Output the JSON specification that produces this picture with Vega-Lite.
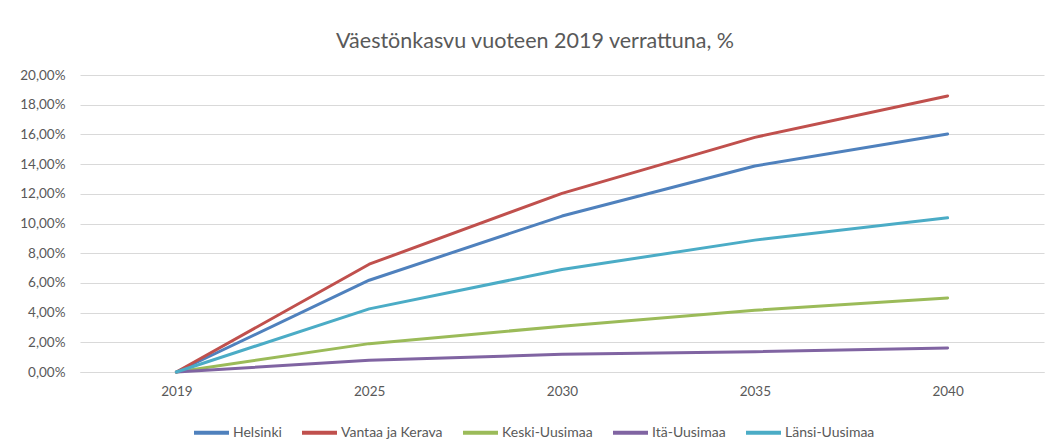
{
  "$schema": "https://vega.github.io/schema/vega-lite/v6.json",
  "width": 964,
  "height": 297,
  "autosize": "none",
  "padding": {"left": 80, "top": 75, "right": 6, "bottom": 69},
  "background": "white",
  "config": {
    "locale": {"number": {"decimal": ",", "thousands": " ", "grouping": [3], "currency": ["", " €"]}},
    "view": {"stroke": null},
    "font": "Lato, sans-serif"
  },
  "title": {
    "text": "Väestönkasvu vuoteen 2019 verrattuna, %",
    "fontSize": 21.5,
    "fontWeight": "normal",
    "color": "#595959",
    "anchor": "middle",
    "dx": -27,
    "offset": 16
  },
  "data": {
    "values": [
      {"vuosi": "2019", "alue": "Helsinki", "kasvu": 0},
      {"vuosi": "2025", "alue": "Helsinki", "kasvu": 0.0618},
      {"vuosi": "2030", "alue": "Helsinki", "kasvu": 0.1050},
      {"vuosi": "2035", "alue": "Helsinki", "kasvu": 0.1387},
      {"vuosi": "2040", "alue": "Helsinki", "kasvu": 0.1603},
      {"vuosi": "2019", "alue": "Vantaa ja Kerava", "kasvu": 0},
      {"vuosi": "2025", "alue": "Vantaa ja Kerava", "kasvu": 0.0726},
      {"vuosi": "2030", "alue": "Vantaa ja Kerava", "kasvu": 0.1203},
      {"vuosi": "2035", "alue": "Vantaa ja Kerava", "kasvu": 0.1580},
      {"vuosi": "2040", "alue": "Vantaa ja Kerava", "kasvu": 0.1859},
      {"vuosi": "2019", "alue": "Keski-Uusimaa", "kasvu": 0},
      {"vuosi": "2025", "alue": "Keski-Uusimaa", "kasvu": 0.0191},
      {"vuosi": "2030", "alue": "Keski-Uusimaa", "kasvu": 0.0308},
      {"vuosi": "2035", "alue": "Keski-Uusimaa", "kasvu": 0.0416},
      {"vuosi": "2040", "alue": "Keski-Uusimaa", "kasvu": 0.0499},
      {"vuosi": "2019", "alue": "Itä-Uusimaa", "kasvu": 0},
      {"vuosi": "2025", "alue": "Itä-Uusimaa", "kasvu": 0.0079},
      {"vuosi": "2030", "alue": "Itä-Uusimaa", "kasvu": 0.0119},
      {"vuosi": "2035", "alue": "Itä-Uusimaa", "kasvu": 0.0137},
      {"vuosi": "2040", "alue": "Itä-Uusimaa", "kasvu": 0.0162},
      {"vuosi": "2019", "alue": "Länsi-Uusimaa", "kasvu": 0},
      {"vuosi": "2025", "alue": "Länsi-Uusimaa", "kasvu": 0.0425},
      {"vuosi": "2030", "alue": "Länsi-Uusimaa", "kasvu": 0.0690},
      {"vuosi": "2035", "alue": "Länsi-Uusimaa", "kasvu": 0.0888},
      {"vuosi": "2040", "alue": "Länsi-Uusimaa", "kasvu": 0.1038}
    ]
  },
  "mark": {"type": "line", "strokeWidth": 3, "strokeCap": "round", "strokeJoin": "round"},
  "encoding": {
    "x": {
      "field": "vuosi",
      "type": "ordinal",
      "scale": {"type": "point", "padding": 0.5},
      "axis": {
        "title": null,
        "labelAngle": 0,
        "ticks": false,
        "domain": true,
        "domainColor": "#d9d9d9",
        "domainWidth": 1,
        "labelColor": "#595959",
        "labelFontSize": 13.5,
        "labelPadding": 12,
        "grid": false
      }
    },
    "y": {
      "field": "kasvu",
      "type": "quantitative",
      "scale": {"domain": [0, 0.2], "nice": false},
      "axis": {
        "title": null,
        "format": ".2%",
        "values": [0, 0.02, 0.04, 0.06, 0.08, 0.1, 0.12, 0.14, 0.16, 0.18, 0.2],
        "ticks": false,
        "domain": false,
        "gridColor": "#d9d9d9",
        "gridWidth": 1,
        "labelColor": "#595959",
        "labelFontSize": 13.5,
        "labelPadding": 15
      }
    },
    "color": {
      "field": "alue",
      "type": "nominal",
      "scale": {
        "domain": ["Helsinki", "Vantaa ja Kerava", "Keski-Uusimaa", "Itä-Uusimaa", "Länsi-Uusimaa"],
        "range": ["#4f81bd", "#c0504d", "#9bbb59", "#8064a2", "#4bacc6"]
      },
      "legend": {
        "title": null,
        "orient": "none",
        "direction": "horizontal",
        "legendX": 112,
        "legendY": 338,
        "symbolType": "stroke",
        "symbolSize": 1225,
        "symbolStrokeWidth": 4,
        "labelFontSize": 14,
        "labelColor": "#595959",
        "labelOffset": 2,
        "columnPadding": 12
      }
    }
  }
}
